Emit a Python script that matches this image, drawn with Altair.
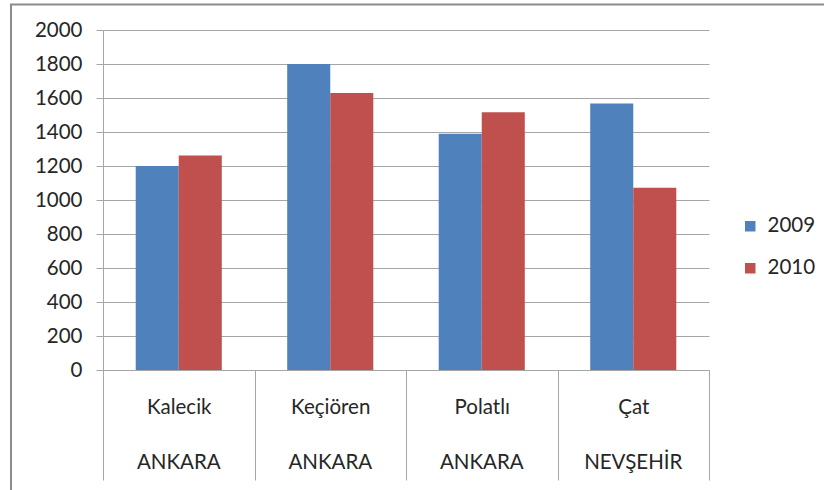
import altair as alt
import pandas as pd

districts = ["Kalecik", "Keçiören", "Polatlı", "Çat"]
provinces = ["ANKARA", "ANKARA", "ANKARA", "NEVŞEHİR"]
years = ["2009", "2010"]
values_2009 = [1200, 1800, 1390, 1568]
values_2010 = [1262, 1630, 1516, 1072]
y_ticks = list(range(0, 2001, 200))

rows = []
for d, p, a, b in zip(districts, provinces, values_2009, values_2010):
    rows.append({"district": d, "province": p, "year": "2009", "value": a})
    rows.append({"district": d, "province": p, "year": "2010", "value": b})
df = pd.DataFrame(rows)
prov_df = pd.DataFrame({"district": districts, "province": provinces})

FONT = "Lato"
FS = 20.5
W, H = 606, 340
GRAY = "#a6a6a6"
TXT = "#262626"

xscale = alt.Scale(domain=districts, paddingInner=0, paddingOuter=0)

bars = alt.Chart(df).mark_bar().encode(
    x=alt.X("district:N", scale=xscale, sort=districts,
            axis=alt.Axis(title=None, labelAngle=0, tickBand="extent",
                          tickSize=110, tickColor=GRAY, tickWidth=1,
                          domainColor=GRAY, labelPadding=-83,
                          labelFont=FONT, labelFontSize=FS, labelColor=TXT,
                          grid=False)),
    xOffset=alt.XOffset("year:N", scale=alt.Scale(paddingInner=0, paddingOuter=0.76)),
    y=alt.Y("value:Q", scale=alt.Scale(domain=[0, 2000], nice=False),
            axis=alt.Axis(title=None, values=y_ticks, format="d", grid=True, gridColor=GRAY,
                          domainColor=GRAY, tickColor=GRAY, tickSize=7,
                          labelPadding=14, labelFont=FONT, labelFontSize=FS,
                          labelColor=TXT)),
    color=alt.Color("year:N", scale=alt.Scale(domain=years, range=["#4F81BD", "#C0504D"]),
                    legend=alt.Legend(title=None, orient="none", legendX=637, legendY=186,
                                      symbolType="square", symbolSize=110,
                                      symbolStrokeWidth=0, rowPadding=21,
                                      labelFont=FONT, labelFontSize=FS,
                                      labelColor=TXT, labelOffset=7)),
)

prov = alt.Chart(prov_df).mark_text(font=FONT, fontSize=FS, color=TXT, baseline="middle").encode(
    x=alt.X("district:N", scale=xscale, sort=districts),
    y=alt.value(H + 93),
    text="province:N",
)

border = alt.Chart(alt.Data(values=[{"a": 1}])).mark_rect(
    filled=False, stroke="#8c8c8c", strokeWidth=2
).encode(
    x=alt.value(-92), x2=alt.value(W + 200),
    y=alt.value(-25.5), y2=alt.value(H + 200),
)

chart = alt.layer(border, bars, prov).properties(
    width=W, height=H,
    autosize=alt.AutoSizeParams(type="none"),
    padding={"left": 103, "top": 30, "right": 115, "bottom": 120},
    background="white",
).configure_view(stroke=None)

chart.save("out.html", embed_options={"renderer": "svg", "actions": False})
